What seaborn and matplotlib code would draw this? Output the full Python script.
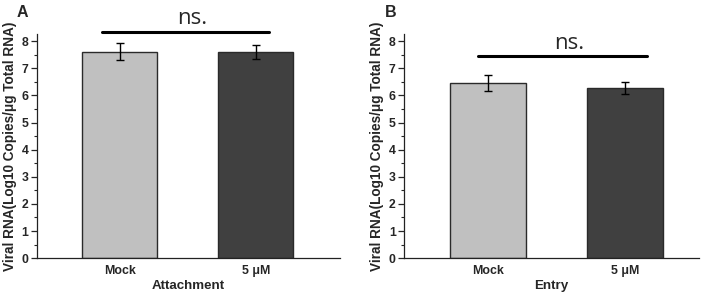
import matplotlib
matplotlib.use("Agg")
import matplotlib.pyplot as plt
import seaborn as sns
import pandas as pd
from matplotlib.ticker import MultipleLocator

# data
groups = ["Mock", "5 μM"]
attach_mean = [7.61, 7.59]
attach_err = [0.32, 0.26]
entry_mean = [6.46, 6.26]
entry_err = [0.28, 0.22]
bar_colors = ["#c0c0c0", "#404040"]

sns.set_theme(style="ticks")
plt.rcParams["font.family"] = ["Liberation Sans", "DejaVu Sans"]

fig = plt.figure(figsize=(7.10, 2.92), dpi=100)
ax_a = fig.add_axes([0.052, 0.116, 0.427, 0.766])
ax_b = fig.add_axes([0.569, 0.116, 0.416, 0.766])


def panel(ax, means, errs, xlabel, letter, xlim, ns_x, ns_y):
    df = pd.DataFrame({"group": groups, "value": means})
    sns.barplot(
        data=df,
        x="group",
        y="value",
        hue="group",
        palette=bar_colors,
        width=0.55,
        errorbar=None,
        edgecolor="#2a2a2a",
        linewidth=1.0,
        legend=False,
        ax=ax,
    )
    ax.errorbar(
        range(len(groups)), means, yerr=errs,
        fmt="none", ecolor="black", elinewidth=1.0, capsize=3, capthick=1.0,
    )
    ax.set_ylim(0, 8.25)
    ax.set_xlim(*xlim)
    ax.yaxis.set_major_locator(MultipleLocator(1))
    ax.yaxis.set_minor_locator(MultipleLocator(0.5))
    ax.tick_params(axis="y", which="major", length=4, width=0.9, labelsize=8.8, pad=2)
    ax.tick_params(axis="y", which="minor", length=2.5, width=0.8)
    ax.tick_params(axis="x", length=0, labelsize=8.9, pad=5)
    for lab in ax.get_xticklabels() + ax.get_yticklabels():
        lab.set_fontweight("bold")
    for side in ["top", "right"]:
        ax.spines[side].set_visible(False)
    for side in ["left", "bottom"]:
        ax.spines[side].set_linewidth(0.9)
        ax.spines[side].set_color("#222222")
    ax.set_xlabel(xlabel, fontsize=9.6, fontweight="bold", labelpad=2)
    ax.set_ylabel("Viral RNA(Log10 Copies/μg Total RNA)", fontsize=9.8,
                  fontweight="bold", labelpad=3)
    ax.plot(ns_x, [ns_y, ns_y], color="black", lw=2.2, clip_on=False)
    ax.text(sum(ns_x) / 2 + 0.05, ns_y + 0.1, "ns.", ha="center", va="bottom",
            fontsize=16, family=["Open Sans", "DejaVu Sans"])
    ax.text(-0.066, 1.10, letter, transform=ax.transAxes, fontsize=11.5,
            fontweight="bold", ha="left", va="center")


panel(ax_a, attach_mean, attach_err, "Attachment", "A", (-0.61, 1.62), (-0.13, 1.10), 8.35)
panel(ax_b, entry_mean, entry_err, "Entry", "B", (-0.61, 1.54), (-0.07, 1.16), 7.44)

fig.savefig("out.png", dpi=100)
